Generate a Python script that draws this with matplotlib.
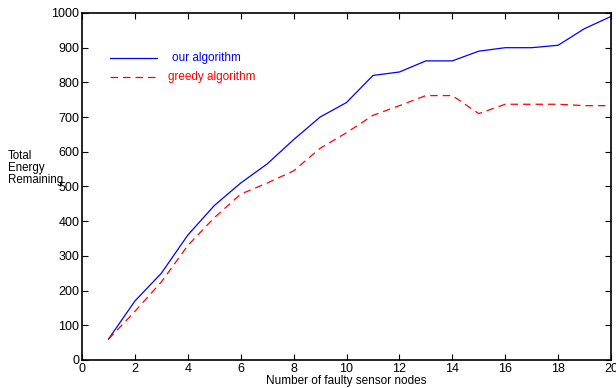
import matplotlib.pyplot as plt
import numpy as np

plt.rcParams['font.family'] = ['Liberation Sans', 'DejaVu Sans']

faulty_nodes = np.arange(1, 21)
our_algorithm = [60, 170, 250, 360, 445, 510, 565, 635, 700, 742,
                 820, 830, 862, 862, 890, 900, 900, 907, 955, 990]
greedy_algorithm = [60, 140, 225, 330, 410, 478, 510, 545, 610, 655,
                    705, 733, 762, 762, 710, 737, 737, 737, 733, 733]

fig = plt.figure(figsize=(6.16, 3.88), dpi=100)
ax = fig.add_axes([82 / 616, 28 / 388, 529 / 616, 347 / 388])

ax.plot(faulty_nodes, our_algorithm, color='blue', lw=0.9)
ax.plot(faulty_nodes, greedy_algorithm, color='red', lw=0.9, dashes=(6, 4))

ax.set_xlim(0, 20)
ax.set_ylim(0, 1000)
ax.set_xticks(np.arange(0, 21, 2))
ax.set_yticks(np.arange(0, 1001, 100))
ax.tick_params(direction='in', top=True, right=True, labelsize=9, length=4, width=0.8, pad=2)
ax.tick_params(axis='x', pad=2.5)
for s in ax.spines.values():
    s.set_linewidth(1.2)

# legend drawn by hand, no frame
ax.plot([1.05, 2.85], [870, 870], color='blue', lw=0.9)
ax.text(3.4, 870, 'our algorithm', color='blue', fontsize=8.5, va='center')
ax.plot([1.05, 2.85], [815, 815], color='red', lw=0.9, dashes=(6, 4))
ax.text(3.25, 815, 'greedy algorithm', color='red', fontsize=8.5, va='center')

ax.set_xlabel('Number of faulty sensor nodes', fontsize=8.5, labelpad=0)
fig.text(8 / 616, 1 - 168 / 388, 'Total\nEnergy\nRemaining', fontsize=8.3,
         va='center', ha='left', linespacing=1.05)

fig.savefig('out.png', dpi=100)
